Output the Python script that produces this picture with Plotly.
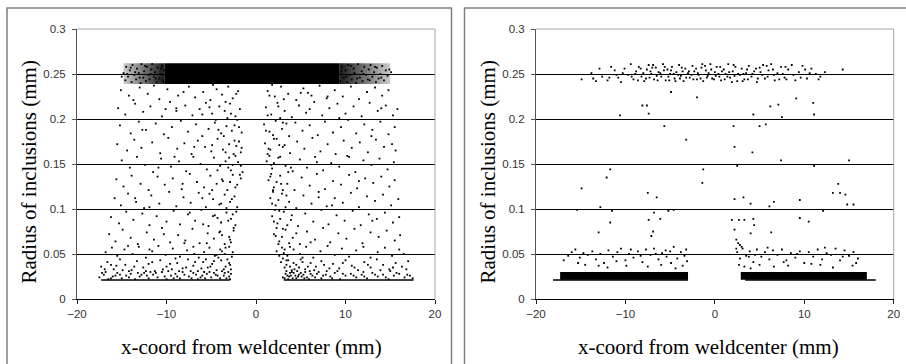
import plotly.graph_objects as go

# ---------------- data: left chart (a) ----------------
a_band_x = [-10.2, 9.3]          # solid core of the cluster at r = 0.25
a_band_y = [0.239, 0.262]
a_fade_left_x = [-14.8, -10.2]   # speckled ends of that cluster
a_fade_right_x = [9.3, 15.0]
a_floor_y = 0.021                 # minimum radius row
a_floor_left_x = [-17.3, -2.9]
a_floor_right_x = [3.1, 17.6]

a_band_edge = [
    (-14.8,0.251),(-14.6,0.243),(-14.5,0.258),(-14.3,0.247),(-14.1,0.254),(-13.9,0.241),(-13.8,0.260),(-13.6,0.249),
    (-13.4,0.244),(-13.3,0.256),(-13.1,0.251),(-12.9,0.240),(-12.8,0.261),(-12.6,0.246),(-12.5,0.253),(-12.3,0.242),
    (-12.2,0.258),(-12.0,0.249),(-11.9,0.244),(-11.7,0.255),(-11.6,0.261),(-11.4,0.247),(-11.3,0.252),(-11.1,0.241),
    (-11.0,0.257),(-10.8,0.245),(-10.7,0.250),(-10.5,0.259),(-10.4,0.243),(-10.2,0.254),(-10.1,0.248),(-14.0,0.257),
    (-13.5,0.252),(-13.0,0.246),(-12.4,0.259),(-11.8,0.250),(-11.2,0.245),(-10.6,0.256),(-10.3,0.241),(-14.4,0.250),
    (9.2,0.250),(9.4,0.242),(9.6,0.258),(9.8,0.246),(10.0,0.254),(10.2,0.241),(10.3,0.260),(10.5,0.249),
    (10.7,0.244),(10.9,0.256),(11.0,0.251),(11.2,0.240),(11.4,0.261),(11.6,0.246),(11.8,0.253),(11.9,0.242),
    (12.1,0.258),(12.3,0.249),(12.5,0.244),(12.6,0.255),(12.8,0.260),(13.0,0.247),(13.2,0.252),(13.4,0.241),
    (13.5,0.257),(13.7,0.245),(13.9,0.250),(14.1,0.259),(14.3,0.243),(14.5,0.254),(14.7,0.248),(14.9,0.255),
    (9.5,0.253),(10.1,0.247),(10.6,0.259),(11.3,0.245),(12.0,0.250),(12.7,0.243),(13.3,0.258),(14.0,0.246),
    (15.1,0.252),(-15.0,0.247),
]

a_left_cloud = [
    (-15.1,0.232),(-14.2,0.226),(-13.0,0.235),(-12.1,0.228),(-10.8,0.222),(-9.9,0.233),(-8.7,0.226),(-7.5,0.236),
    (-6.8,0.224),(-5.9,0.230),(-5.1,0.221),(-4.4,0.233),(-3.8,0.227),(-3.1,0.236),(-2.6,0.223),(-2.0,0.231),
    (-11.4,0.237),(-8.1,0.230),(-4.8,0.238),(-13.7,0.221),
    (-15.4,0.212),(-14.6,0.205),(-13.5,0.217),(-12.6,0.208),(-11.8,0.214),(-10.5,0.203),(-9.6,0.219),(-8.9,0.209),
    (-7.9,0.215),(-7.1,0.204),(-6.3,0.211),(-5.6,0.218),(-4.9,0.206),(-4.1,0.214),(-3.5,0.209),(-2.9,0.217),
    (-2.3,0.203),(-1.8,0.211),(-3.2,0.201),(-5.2,0.213),(-10.1,0.211),
    (-15.2,0.193),(-14.0,0.184),(-13.1,0.197),(-12.3,0.188),(-11.2,0.195),(-10.3,0.183),(-9.4,0.191),(-8.4,0.198),
    (-7.6,0.186),(-6.7,0.194),(-6.0,0.181),(-5.3,0.189),(-4.6,0.196),(-3.9,0.184),(-3.3,0.192),(-2.7,0.187),
    (-2.1,0.199),(-1.6,0.185),(-2.4,0.193),(-4.2,0.188),
    (-15.5,0.172),(-14.4,0.165),(-13.6,0.177),(-12.8,0.168),(-11.6,0.174),(-10.7,0.162),(-9.8,0.179),(-8.8,0.167),
    (-8.0,0.173),(-7.2,0.161),(-6.5,0.176),(-5.7,0.169),(-5.0,0.164),(-4.3,0.178),(-3.7,0.166),(-3.0,0.172),
    (-2.5,0.161),(-1.9,0.175),(-1.6,0.168),(-3.4,0.163),(-2.2,0.170),
    (-15.0,0.154),(-14.1,0.146),(-13.3,0.158),(-12.4,0.149),(-11.5,0.141),(-10.6,0.156),(-9.5,0.147),(-8.6,0.153),
    (-7.8,0.142),(-7.0,0.158),(-6.2,0.150),(-5.5,0.144),(-4.7,0.157),(-4.0,0.148),(-3.4,0.153),(-2.8,0.143),
    (-2.3,0.159),(-1.7,0.148),(-1.5,0.141),(-2.0,0.152),(-3.1,0.146),
    (-15.6,0.133),(-14.8,0.125),(-13.9,0.137),(-12.9,0.128),(-12.0,0.121),(-11.0,0.136),(-10.2,0.127),(-9.3,0.134),
    (-8.3,0.122),(-7.4,0.139),(-6.6,0.130),(-5.8,0.124),(-5.1,0.137),(-4.4,0.128),(-3.8,0.133),(-3.2,0.121),
    (-2.6,0.138),(-2.1,0.127),(-1.7,0.134),(-2.9,0.130),(-4.9,0.121),
    (-15.8,0.112),(-15.1,0.104),(-14.3,0.117),(-13.4,0.108),(-12.5,0.101),(-11.7,0.115),(-10.8,0.106),(-9.7,0.119),
    (-8.9,0.103),(-8.1,0.113),(-7.3,0.107),(-6.4,0.118),(-5.6,0.102),(-4.8,0.111),(-4.1,0.105),(-3.5,0.116),
    (-2.9,0.108),(-2.4,0.114),(-2.1,0.102),(-3.3,0.101),(-6.0,0.112),
    (-16.2,0.091),(-15.3,0.084),(-14.5,0.097),(-13.7,0.088),(-12.7,0.095),(-11.9,0.082),(-11.1,0.092),(-10.0,0.086),
    (-9.2,0.098),(-8.5,0.083),(-7.6,0.094),(-6.8,0.087),(-6.1,0.099),(-5.3,0.081),(-4.6,0.093),(-3.9,0.085),
    (-3.3,0.096),(-2.8,0.089),(-2.3,0.082),(-2.6,0.094),(-4.3,0.090),
    (-16.4,0.072),(-15.7,0.064),(-14.9,0.077),(-14.0,0.068),(-13.2,0.061),(-12.2,0.074),(-11.4,0.066),(-10.5,0.079),
    (-9.6,0.063),(-8.7,0.071),(-7.9,0.065),(-7.1,0.078),(-6.3,0.062),(-5.4,0.073),(-4.7,0.067),(-4.0,0.075),
    (-3.5,0.061),(-3.0,0.069),(-2.5,0.076),(-2.8,0.063),(-3.8,0.071),
    (-16.8,0.052),(-16.1,0.057),(-15.5,0.048),(-14.7,0.055),(-13.8,0.050),(-13.1,0.058),(-12.3,0.046),(-11.6,0.053),
    (-10.9,0.059),(-10.1,0.049),(-9.3,0.056),(-8.5,0.047),(-7.7,0.054),(-7.0,0.058),(-6.4,0.046),(-5.8,0.052),
    (-5.2,0.057),(-4.6,0.048),(-4.0,0.055),(-3.5,0.050),(-3.0,0.058),(-2.7,0.047),(-3.8,0.053),(-6.9,0.050),(-11.9,0.055),
    (-17.3,0.036),(-16.6,0.041),(-15.9,0.033),(-15.2,0.044),(-14.6,0.038),(-13.9,0.032),(-13.3,0.042),(-12.6,0.035),
    (-12.0,0.039),(-11.3,0.031),(-10.7,0.043),(-10.0,0.036),(-9.4,0.033),(-8.8,0.040),(-8.2,0.034),(-7.6,0.044),
    (-7.0,0.037),(-6.5,0.031),(-5.9,0.041),(-5.4,0.035),(-4.9,0.039),(-4.4,0.032),(-3.9,0.043),(-3.4,0.036),
    (-3.0,0.040),(-2.8,0.033),(-4.2,0.046),(-5.6,0.044),(-9.0,0.045),(-16.2,0.038),
    (-17.5,0.024),(-17.0,0.027),(-16.5,0.022),(-16.0,0.025),(-15.5,0.029),(-15.0,0.023),(-14.5,0.026),(-14.0,0.028),
    (-13.5,0.022),(-13.0,0.025),(-12.5,0.029),(-12.0,0.023),(-11.5,0.027),(-11.0,0.024),(-10.5,0.030),(-10.0,0.022),
    (-9.5,0.026),(-9.0,0.028),(-8.5,0.023),(-8.0,0.027),(-7.5,0.025),(-7.0,0.029),(-6.5,0.022),(-6.0,0.026),
    (-5.5,0.028),(-5.0,0.024),(-4.5,0.027),(-4.0,0.023),(-3.5,0.029),(-3.0,0.025),(-2.8,0.028),(-16.8,0.030),
    (-14.2,0.031),(-11.8,0.030),(-9.8,0.031),(-7.3,0.031),(-5.2,0.030),(-3.8,0.031),(-6.2,0.024),(-8.8,0.025),
    (-12.8,0.027),(-15.7,0.026),(-4.3,0.026),(-3.3,0.023),(-5.8,0.030),
    (-2.2,0.228),(-3.4,0.219),(-2.8,0.206),(-4.5,0.199),(-1.9,0.191),(-3.6,0.181),(-2.4,0.176),(-4.9,0.171),
    (-1.7,0.163),(-3.0,0.157),(-2.6,0.149),(-4.3,0.143),(-1.8,0.138),(-3.7,0.131),(-2.3,0.124),(-5.2,0.117),
    (-2.7,0.111),(-3.9,0.106),(-2.2,0.097),(-4.8,0.092),(-3.1,0.087),(-2.5,0.079),(-4.1,0.074),(-2.9,0.066),
    (-5.5,0.062),(-3.4,0.057),(-2.6,0.052),(-4.4,0.049),(-3.2,0.044),(-2.9,0.038),(-3.6,0.033),(-5.1,0.036),
    (-4.7,0.042),(-6.1,0.034),(-6.8,0.041),(-7.8,0.035),(-8.6,0.031),(-9.6,0.039),(-10.4,0.033),(-11.6,0.041),
    (-12.3,0.031),(-13.6,0.036),(-14.9,0.032),(-15.6,0.037),(-16.9,0.033),(-17.2,0.029),(-16.2,0.023),(-15.2,0.027),
    (-14.2,0.024),(-13.2,0.029),(-12.2,0.026),(-11.2,0.029),(-10.2,0.025),(-9.2,0.023),(-8.2,0.030),(-7.2,0.023),
    (-6.7,0.027),(-5.7,0.023),(-4.7,0.029),(-3.6,0.026),(-3.1,0.030),(-2.9,0.022),(-8.9,0.212),(-12.7,0.188),
    (-6.9,0.169),(-10.9,0.146),(-8.2,0.128),(-13.5,0.112),(-7.4,0.096),(-10.3,0.072),(-14.3,0.059),(-6.0,0.205),
    (-9.1,0.158),(-11.9,0.102),(-5.9,0.083),(-8.0,0.062),
]

a_right_cloud = [
    (1.3,0.231),(2.1,0.225),(2.8,0.236),(3.6,0.228),(4.5,0.221),(5.3,0.234),(6.2,0.226),(7.1,0.237),
    (7.9,0.223),(8.8,0.232),(9.7,0.225),(10.6,0.236),(11.5,0.222),(12.4,0.230),(13.3,0.235),(14.1,0.226),
    (14.8,0.232),(1.8,0.238),(3.1,0.222),(5.8,0.229),
    (1.1,0.213),(1.7,0.205),(2.4,0.218),(3.2,0.209),(4.0,0.202),(4.8,0.215),(5.6,0.207),(6.5,0.219),
    (7.4,0.204),(8.2,0.212),(9.1,0.217),(10.0,0.206),(10.9,0.214),(11.8,0.203),(12.7,0.218),(13.6,0.209),
    (14.5,0.215),(15.3,0.204),(15.8,0.211),(2.7,0.201),(6.0,0.211),
    (0.9,0.194),(1.5,0.186),(2.2,0.198),(2.9,0.189),(3.7,0.181),(4.4,0.196),(5.2,0.187),(6.0,0.193),
    (6.9,0.182),(7.7,0.197),(8.6,0.185),(9.5,0.191),(10.3,0.199),(11.2,0.184),(12.1,0.194),(13.0,0.188),
    (13.9,0.197),(14.8,0.183),(15.5,0.191),(1.9,0.182),(3.4,0.195),
    (1.0,0.173),(1.6,0.166),(2.3,0.178),(3.0,0.169),(3.8,0.162),(4.6,0.175),(5.4,0.167),(6.3,0.179),
    (7.2,0.164),(8.0,0.172),(8.9,0.161),(9.8,0.176),(10.7,0.168),(11.6,0.174),(12.5,0.163),(13.4,0.177),
    (14.3,0.169),(15.2,0.172),(1.3,0.161),(2.6,0.171),(15.6,0.165),
    (1.2,0.153),(1.8,0.145),(2.5,0.157),(3.3,0.148),(4.1,0.142),(4.9,0.155),(5.7,0.146),(6.6,0.158),
    (7.5,0.143),(8.4,0.151),(9.3,0.147),(10.2,0.159),(11.1,0.141),(12.0,0.154),(12.9,0.149),(13.8,0.156),
    (14.7,0.144),(15.4,0.152),(2.0,0.151),(3.6,0.141),(1.5,0.159),
    (1.4,0.132),(2.0,0.124),(2.7,0.137),(3.5,0.128),(4.3,0.121),(5.1,0.135),(6.0,0.126),(6.8,0.139),
    (7.7,0.122),(8.6,0.131),(9.5,0.127),(10.4,0.138),(11.3,0.123),(12.2,0.134),(13.1,0.129),(14.0,0.136),
    (14.9,0.125),(15.5,0.132),(1.7,0.139),(3.0,0.121),(2.3,0.130),
    (1.6,0.112),(2.2,0.104),(2.9,0.117),(3.7,0.108),(4.5,0.101),(5.3,0.115),(6.2,0.106),(7.0,0.119),
    (7.9,0.103),(8.8,0.112),(9.7,0.107),(10.6,0.118),(11.5,0.102),(12.4,0.114),(13.3,0.109),(14.2,0.116),
    (15.1,0.104),(15.9,0.111),(1.9,0.119),(3.3,0.102),(2.5,0.110),
    (1.8,0.092),(2.4,0.084),(3.1,0.097),(3.9,0.088),(4.7,0.081),(5.5,0.095),(6.4,0.086),(7.3,0.099),
    (8.1,0.083),(9.0,0.093),(9.9,0.087),(10.8,0.098),(11.7,0.082),(12.6,0.094),(13.5,0.089),(14.4,0.096),
    (15.3,0.085),(16.0,0.091),(2.1,0.099),(2.7,0.089),(3.5,0.082),
    (2.0,0.072),(2.6,0.064),(3.3,0.077),(4.1,0.068),(4.9,0.061),(5.7,0.075),(6.6,0.066),(7.5,0.079),
    (8.3,0.063),(9.2,0.073),(10.1,0.067),(11.0,0.078),(11.9,0.062),(12.8,0.074),(13.7,0.069),(14.6,0.076),
    (15.5,0.065),(16.1,0.071),(2.3,0.079),(2.9,0.069),(3.7,0.062),
    (2.3,0.053),(2.9,0.057),(3.5,0.048),(4.2,0.055),(4.9,0.050),(5.6,0.058),(6.4,0.046),(7.2,0.053),
    (8.0,0.059),(8.8,0.049),(9.6,0.056),(10.4,0.047),(11.2,0.054),(12.0,0.058),(12.8,0.046),(13.6,0.052),
    (14.4,0.057),(15.2,0.048),(16.0,0.055),(16.5,0.050),(3.1,0.051),(3.8,0.058),(5.2,0.046),
    (2.8,0.041),(3.2,0.035),(3.6,0.043),(4.0,0.032),(4.5,0.038),(5.0,0.044),(5.5,0.033),(6.1,0.040),
    (6.7,0.036),(7.3,0.042),(7.9,0.031),(8.6,0.039),(9.3,0.034),(10.0,0.043),(10.7,0.037),(11.4,0.032),
    (12.1,0.041),(12.8,0.035),(13.5,0.044),(14.2,0.038),(14.9,0.033),(15.6,0.040),(16.3,0.036),(17.0,0.042),
    (3.4,0.038),(4.2,0.040),(3.0,0.045),(4.8,0.035),
    (3.0,0.024),(3.3,0.028),(3.6,0.022),(3.9,0.026),(4.2,0.029),(4.5,0.023),(4.8,0.027),(5.1,0.025),
    (5.5,0.030),(5.9,0.022),(6.3,0.026),(6.8,0.028),(7.3,0.023),(7.8,0.027),(8.3,0.025),(8.8,0.029),
    (9.4,0.022),(10.0,0.026),(10.6,0.028),(11.2,0.024),(11.8,0.027),(12.4,0.023),(13.0,0.029),(13.6,0.025),
    (14.2,0.027),(14.8,0.022),(15.4,0.026),(16.0,0.028),(16.6,0.024),(17.2,0.026),(17.5,0.023),(3.4,0.031),
    (4.0,0.030),(4.6,0.031),(5.3,0.027),(6.0,0.031),(7.0,0.030),(9.1,0.031),(12.0,0.030),(15.0,0.031),
    (3.7,0.025),(4.4,0.026),(5.7,0.024),
    (1.5,0.226),(2.5,0.214),(1.3,0.204),(3.0,0.196),(1.1,0.187),(2.0,0.178),(3.2,0.171),(1.4,0.167),
    (2.7,0.158),(1.7,0.149),(3.9,0.146),(1.6,0.136),(2.8,0.128),(1.9,0.121),(3.4,0.115),(1.8,0.106),
    (2.6,0.098),(4.0,0.093),(2.0,0.086),(3.0,0.078),(2.2,0.070),(4.5,0.073),(2.5,0.061),(3.2,0.055),
    (2.6,0.048),(3.4,0.043),(3.8,0.036),(4.3,0.033),(5.2,0.041),(5.8,0.036),(6.5,0.032),(7.6,0.038),
    (8.2,0.034),(9.7,0.040),(11.0,0.035),(12.5,0.038),(13.9,0.032),(15.3,0.035),(16.8,0.033),(3.2,0.023),
    (3.5,0.026),(3.8,0.029),(4.1,0.023),(4.7,0.025),(5.0,0.029),(5.4,0.023),(6.1,0.028),(6.6,0.024),
    (7.5,0.026),(8.5,0.023),(9.7,0.028),(10.9,0.026),(12.1,0.025),(13.3,0.027),(14.5,0.024),(15.7,0.029),
    (16.9,0.027),(5.0,0.229),(9.3,0.201),(12.9,0.181),(6.8,0.152),(11.5,0.131),(8.5,0.104),(13.0,0.087),
    (6.1,0.063),(10.4,0.158),(14.0,0.212),(8.0,0.225),(7.0,0.113),
]

# ---------------- data: right chart (b) ----------------
b_band_left_x = [-17.3, -3.0]     # dense rows just above the minimum radius
b_band_right_x = [2.9, 17.0]
b_band_y = [0.0215, 0.030]
b_floor_y = 0.021
b_floor_left_x = [-18.1, -3.0]
b_floor_right_x = [3.4, 18.0]

b_top = [
    (-14.9,0.244),(-13.8,0.251),(-13.3,0.242),(-12.6,0.247),(-12.0,0.243),(-11.6,0.258),(-11.2,0.254),(-10.8,0.246),
    (-10.5,0.241),(-10.1,0.256),(-9.7,0.249),(-9.4,0.261),(-9.1,0.244),(-8.8,0.253),(-8.5,0.258),(-8.2,0.247),
    (-7.9,0.242),(-7.6,0.255),(-7.4,0.260),(-7.1,0.250),(-6.8,0.244),(-6.6,0.257),(-6.3,0.252),(-6.0,0.247),
    (-5.8,0.261),(-5.5,0.243),(-5.3,0.255),(-5.0,0.250),(-4.8,0.258),(-4.5,0.245),(-4.3,0.252),(-4.0,0.260),
    (-3.8,0.248),(-3.5,0.242),(-3.3,0.256),(-3.0,0.251),(-2.8,0.246),(-2.5,0.259),(-2.3,0.253),(-2.0,0.244),
    (-1.8,0.249),(-1.5,0.257),(-1.3,0.242),(-1.0,0.254),(-0.8,0.248),(-0.5,0.261),(-0.3,0.245),(0.0,0.252),
    (0.2,0.258),(0.5,0.247),(0.7,0.243),(1.0,0.255),(1.2,0.250),(1.5,0.261),(1.7,0.246),(2.0,0.253),
    (2.3,0.258),(2.5,0.242),(2.8,0.249),(3.0,0.256),(3.3,0.244),(3.5,0.251),(3.8,0.259),(4.1,0.247),
    (4.4,0.253),(4.7,0.241),(5.0,0.257),(5.3,0.249),(5.6,0.245),(6.0,0.254),(6.3,0.261),(6.7,0.243),
    (7.0,0.251),(7.4,0.258),(7.8,0.246),(8.2,0.255),(8.6,0.260),(9.0,0.243),(9.4,0.252),(9.8,0.259),
    (10.3,0.245),(10.8,0.256),(11.3,0.250),(11.8,0.247),(12.3,0.252),(-8.0,0.251),(-6.5,0.248),(-5.1,0.243),
    (-3.6,0.253),(-2.1,0.256),(-0.7,0.251),(0.8,0.253),(2.2,0.248),(3.7,0.244),(5.1,0.252),(6.6,0.249),
    (-9.3,0.247),(-7.0,0.257),(-4.6,0.250),(-1.6,0.245),(1.4,0.247),(4.6,0.256),(7.6,0.250),(-12.9,0.256),
    (-11.0,0.249),(8.0,0.244),(10.6,0.251),(-0.1,0.244),(-1.1,0.259),(1.9,0.241),(0.4,0.250),(-3.9,0.245),
    (-5.7,0.254),(-7.3,0.246),(-8.6,0.243),(5.8,0.259),(3.2,0.250),(-2.6,0.249),(14.3,0.255),
    (-8.9,0.250),(-8.3,0.256),(-7.7,0.245),(-7.2,0.253),(-6.9,0.260),(-6.4,0.243),(-6.1,0.251),(-5.6,0.258),
    (-5.2,0.247),(-4.9,0.254),(-4.4,0.242),(-4.1,0.249),(-3.7,0.257),(-3.2,0.246),(-2.9,0.253),(-2.4,0.244),
    (-1.9,0.251),(-1.4,0.261),(-0.9,0.246),(-0.4,0.255),(0.1,0.248),(0.6,0.258),(1.1,0.244),(1.6,0.252),
    (2.1,0.260),(2.6,0.250),(3.1,0.242),(3.6,0.255),(4.2,0.250),(4.8,0.245),(5.4,0.260),(5.9,0.247),
    (6.5,0.255),(7.2,0.244),(7.9,0.258),(8.8,0.249),(9.6,0.246),(10.1,0.255),(11.6,0.244),(-10.3,0.251),
    (-11.8,0.246),(-13.6,0.245),
]

b_mid = [
    (-4.9,0.230),(-2.0,0.224),(-8.1,0.215),(-7.6,0.215),(-7.4,0.206),(-10.6,0.204),(-5.65,0.192),
    (-3.2,0.177),(-11.7,0.144),(-12.1,0.135),(-1.3,0.144),(-1.4,0.129),(-14.9,0.123),(-7.5,0.118),(-6.5,0.113),
    (-15.4,0.099),(-12.8,0.102),(-11.5,0.098),(-6.8,0.096),(-5.2,0.098),(-4.6,0.099),(-7.4,0.088),(-6.1,0.089),
    (-11.7,0.085),(-13.0,0.074),(-6.9,0.075),(-7.1,0.070),
    (9.1,0.223),(11.0,0.218),(6.2,0.214),(7.1,0.216),(4.3,0.205),(7.5,0.202),(11.1,0.205),(2.1,0.192),
    (5.0,0.192),(5.7,0.194),(2.2,0.169),(4.2,0.163),(7.4,0.154),(11.1,0.148),(2.5,0.148),(15.0,0.154),
    (13.8,0.128),(13.2,0.118),(14.0,0.118),(14.6,0.116),(14.8,0.105),(15.5,0.105),(2.2,0.111),(3.2,0.113),
    (4.0,0.106),(6.6,0.108),(6.1,0.103),(9.5,0.110),(12.1,0.098),(1.9,0.088),(2.7,0.088),(3.3,0.088),
    (4.3,0.089),(9.5,0.090),(10.5,0.086),(2.2,0.077),(4.4,0.082),(4.0,0.073),(6.3,0.074),(2.4,0.066),
    (2.8,0.060),(2.4,0.056),
]

b_low = [
    (-16.9,0.043),(-16.4,0.048),(-16.0,0.052),(-15.6,0.055),(-15.1,0.046),(-14.7,0.051),(-14.2,0.049),(-13.7,0.053),
    (-13.3,0.044),(-12.8,0.050),(-12.4,0.040),(-11.9,0.054),(-11.4,0.047),(-10.9,0.052),(-10.5,0.056),(-10.0,0.043),
    (-9.6,0.050),(-9.1,0.046),(-8.6,0.053),(-8.1,0.041),(-7.7,0.055),(-7.2,0.049),(-6.8,0.056),(-6.3,0.044),
    (-5.9,0.051),(-5.4,0.047),(-5.0,0.053),(-4.6,0.058),(-4.2,0.045),(-3.8,0.052),(-3.4,0.048),(-3.2,0.055),
    (-4.9,0.040),(-6.0,0.038),(-7.5,0.036),(-9.9,0.037),(-12.0,0.035),(-14.5,0.038),(-3.6,0.037),(-4.4,0.034),
    (-5.5,0.054),(-8.3,0.048),(-11.0,0.042),(-13.0,0.037),(-15.3,0.040),(-3.1,0.042),(-6.6,0.050),(-9.4,0.055),
    (2.5,0.052),(2.8,0.045),(3.1,0.056),(3.5,0.048),(3.9,0.053),(4.3,0.041),(4.7,0.055),(5.2,0.047),
    (5.6,0.052),(6.1,0.044),(6.5,0.054),(7.0,0.049),(7.5,0.055),(8.0,0.043),(8.5,0.051),(9.0,0.046),
    (9.5,0.053),(10.0,0.040),(10.5,0.052),(11.0,0.047),(11.5,0.055),(12.0,0.044),(12.5,0.051),(13.0,0.049),
    (13.5,0.056),(14.0,0.043),(14.5,0.054),(15.0,0.048),(15.5,0.052),(16.0,0.045),(2.7,0.038),(3.3,0.036),
    (4.0,0.034),(5.0,0.038),(6.6,0.036),(8.2,0.037),(10.8,0.039),(13.2,0.035),(15.4,0.037),(3.0,0.058),
    (5.9,0.057),(9.2,0.050),(12.3,0.057),(15.8,0.040),(7.7,0.041),(4.5,0.049),(11.8,0.038),(14.3,0.047),
    (2.6,0.062),(3.8,0.047),
]

x_ticks = [-20, -10, 0, 10, 20]
y_ticks = [0, 0.05, 0.1, 0.15, 0.2, 0.25, 0.3]
y_tick_text = ["0", "0.05", "0.1", "0.15", "0.2", "0.25", "0.3"]
x_title = "x-coord from weldcenter (mm)"
y_title = "Radius of inclusions (mm)"

# ---------------- figure ----------------
W, H = 906, 364
fig = go.Figure()
MK = dict(symbol="square", size=1.8, color="black", line=dict(width=0))


def pts(xa, ya, data):
    fig.add_trace(go.Scatter(x=[p[0] for p in data], y=[p[1] for p in data], mode="markers",
                             marker=MK, xaxis=xa, yaxis=ya, hoverinfo="skip"))


def band(xa, ya, xr, yr, color="black", gradient=None):
    kw = dict(fillgradient=gradient) if gradient else dict(fillcolor=color)
    fig.add_trace(go.Scatter(x=[xr[0], xr[1], xr[1], xr[0], xr[0]],
                             y=[yr[0], yr[0], yr[1], yr[1], yr[0]],
                             mode="lines", fill="toself", line=dict(color="rgba(0,0,0,0)", width=0),
                             xaxis=xa, yaxis=ya, hoverinfo="skip", **kw))


def floor(xa, ya, xr, yv):
    fig.add_trace(go.Scatter(x=xr, y=[yv, yv], mode="lines", line=dict(color="black", width=1.5),
                             xaxis=xa, yaxis=ya, hoverinfo="skip"))


# chart a
fade_in = dict(type="horizontal", colorscale=[[0, "rgba(0,0,0,0.2)"], [1, "rgba(0,0,0,0.9)"]])
fade_out = dict(type="horizontal", colorscale=[[0, "rgba(0,0,0,0.9)"], [1, "rgba(0,0,0,0.2)"]])
band("x", "y", a_fade_left_x, a_band_y, gradient=fade_in)
band("x", "y", a_fade_right_x, a_band_y, gradient=fade_out)
band("x", "y", a_band_x, a_band_y)
pts("x", "y", a_band_edge)
pts("x", "y", a_left_cloud)
pts("x", "y", a_right_cloud)
floor("x", "y", a_floor_left_x, a_floor_y)
floor("x", "y", a_floor_right_x, a_floor_y)

# chart b
band("x2", "y2", b_band_left_x, b_band_y)
band("x2", "y2", b_band_right_x, b_band_y)
floor("x2", "y2", b_floor_left_x, b_floor_y)
floor("x2", "y2", b_floor_right_x, b_floor_y)
pts("x2", "y2", b_top)
pts("x2", "y2", b_mid)
pts("x2", "y2", b_low)

tickfont = dict(family="Liberation Sans, Arial, sans-serif", size=11.5, color="#333333")
xcommon = dict(range=[-20, 20], tickvals=x_ticks, ticks="outside", ticklen=4, tickcolor="#222",
               showline=True, linecolor="black", linewidth=1, showgrid=False, zeroline=False,
               tickfont=tickfont, fixedrange=True, automargin=False)
ycommon = dict(range=[0, 0.3], tickvals=y_ticks, ticktext=y_tick_text, ticks="outside", ticklen=4,
               tickcolor="#555", showline=True, linecolor="#555", linewidth=1, showgrid=True,
               gridcolor="black", gridwidth=1, zeroline=False, tickfont=tickfont, fixedrange=True,
               ticklabelstandoff=4, automargin=False)

ybot, ytop = (H - 299) / H, (H - 29) / H
fig.update_layout(
    width=W, height=H, margin=dict(l=0, r=0, t=0, b=0, pad=0, autoexpand=False),
    paper_bgcolor="white", plot_bgcolor="white", showlegend=False,
    xaxis=dict(domain=[77 / W, 435 / W], anchor="y", **xcommon),
    yaxis=dict(domain=[ybot, ytop], anchor="x", **ycommon),
    xaxis2=dict(domain=[536 / W, 893.7 / W], anchor="y2", **xcommon),
    yaxis2=dict(domain=[ybot, ytop], anchor="x2", **ycommon),
)

shapes = []
for xr, yr in (("x domain", "y domain"), ("x2 domain", "y2 domain")):
    shapes.append(dict(type="line", xref=xr, yref=yr, x0=0, x1=1, y0=1, y1=1,
                       line=dict(color="#a6a6a6", width=1), layer="above"))
    shapes.append(dict(type="line", xref=xr, yref=yr, x0=1, x1=1, y0=0, y1=1,
                       line=dict(color="#a6a6a6", width=1), layer="above"))
for x0, x1 in ((7, 451.5), (464.5, 912)):
    shapes.append(dict(type="rect", xref="paper", yref="paper", x0=x0 / W, x1=x1 / W,
                       y0=-0.05, y1=(H - 8) / H, line=dict(color="#808080", width=1.5),
                       fillcolor="rgba(0,0,0,0)", layer="below"))
fig.update_layout(shapes=shapes)

titlefont = dict(family="Liberation Serif, Times New Roman, serif", size=21, color="black")
ann = []
for xc in (251, 708.5):
    ann.append(dict(text=x_title, xref="paper", yref="paper", x=xc / W, y=(H - 347) / H,
                    xanchor="center", yanchor="middle", showarrow=False, font=titlefont))
for xc in (28, 487):
    ann.append(dict(text=y_title, xref="paper", yref="paper", x=xc / W, y=(H - 172.5) / H,
                    xanchor="center", yanchor="middle", textangle=-90, showarrow=False, font=titlefont))
fig.update_layout(annotations=ann)

# the page's default 8px body margin would shift the figure; remove it
fig.write_html("out.html", config={"displayModeBar": False},
               post_script="document.body.style.margin='0px';document.body.style.overflow='hidden';")
